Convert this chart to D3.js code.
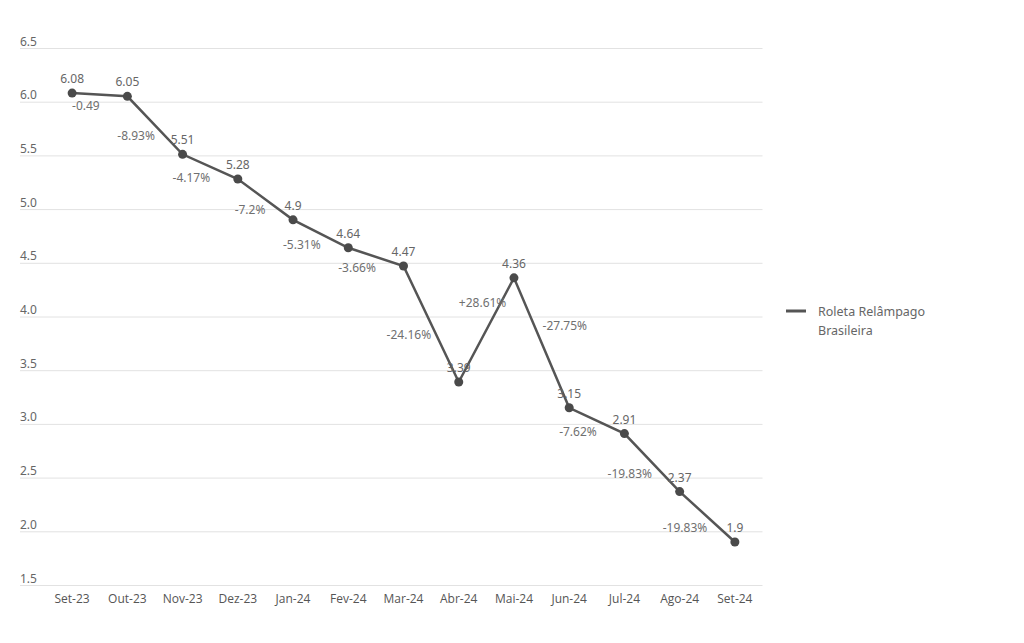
<!DOCTYPE html>
<html>
<head>
<meta charset="utf-8">
<script src="https://cdn.jsdelivr.net/npm/d3@7"></script>
<style>
  html, body { margin: 0; padding: 0; background: #fff; }
  svg { display: block; }
</style>
</head>
<body>
<svg id="chart" width="1024" height="643"></svg>
<script>
// ---- data ----
const categories = ["Set-23","Out-23","Nov-23","Dez-23","Jan-24","Fev-24","Mar-24","Abr-24","Mai-24","Jun-24","Jul-24","Ago-24","Set-24"];
const values = [6.08, 6.05, 5.51, 5.28, 4.9, 4.64, 4.47, 3.39, 4.36, 3.15, 2.91, 2.37, 1.9];
const changeLabels = ["-0.49","-8.93%","-4.17%","-7.2%","-5.31%","-3.66%","-24.16%","+28.61%","-27.75%","-7.62%","-19.83%","-19.83%"];
const yTicks = [1.5, 2.0, 2.5, 3.0, 3.5, 4.0, 4.5, 5.0, 5.5, 6.0, 6.5];
const seriesName = ["Roleta Relâmpago", "Brasileira"];

// ---- layout ----
const svg = d3.select("#chart");
const gridLeft = 20, plotLeft = 44.5, plotRight = 762.5;
const yTop = 48, yBottom = 585;

const x = d3.scaleBand().domain(categories).range([plotLeft, plotRight]).padding(0);
const cx = d => x(d) + x.bandwidth() / 2;
const y = d3.scaleLinear().domain([1.5, 6.5]).range([yBottom, yTop]);

const labelFont = "'Noto Sans', 'Open Sans', sans-serif";
const axisFont = "'Open Sans', 'Noto Sans', sans-serif";

// gridlines + y labels
const yAxis = d3.axisLeft(y).tickValues(yTicks).tickSize(0).tickFormat(d3.format(".1f"));
const gy = svg.append("g").attr("transform", `translate(${gridLeft},0)`).call(yAxis);
gy.select(".domain").remove();
gy.selectAll(".tick line")
  .attr("x1", 0).attr("x2", plotRight - gridLeft)
  .attr("stroke", "#e2e2e2").attr("stroke-width", 1);
gy.selectAll(".tick text")
  .attr("x", 0).attr("dy", -3).attr("text-anchor", "start")
  .attr("fill", "#666").style("font-family", labelFont).style("font-size", "12px");

// x axis labels
const xAxis = d3.axisBottom(x).tickSize(0).tickPadding(0);
const gx = svg.append("g").attr("transform", `translate(0,${yBottom})`).call(xAxis);
gx.select(".domain").remove();
gx.selectAll(".tick text")
  .attr("y", 18).attr("dy", 0)
  .attr("fill", "#555").style("font-family", axisFont).style("font-size", "12px");

// line
const pts = categories.map((c, i) => ({c, v: values[i], i}));
svg.append("path")
  .datum(pts)
  .attr("fill", "none").attr("stroke", "#555").attr("stroke-width", 2.5)
  .attr("d", d3.line().x(d => cx(d.c)).y(d => y(d.v)));

svg.selectAll("circle.pt").data(pts).join("circle")
  .attr("class", "pt")
  .attr("cx", d => cx(d.c)).attr("cy", d => y(d.v)).attr("r", 4.5)
  .attr("fill", "#4a4a4a");

// value labels
svg.selectAll("text.val").data(pts).join("text")
  .attr("class", "val")
  .attr("x", d => cx(d.c)).attr("y", d => y(d.v) - 10)
  .attr("text-anchor", "middle")
  .attr("fill", "#666").style("font-family", labelFont).style("font-size", "12px")
  .text(d => String(d.v));

// change labels, placed by segment direction
const segs = changeLabels.map((t, i) => {
  const x0 = cx(categories[i]), x1 = cx(categories[i + 1]);
  const y0 = y(values[i]), y1 = y(values[i + 1]);
  const mx = (x0 + x1) / 2, my = (y0 + y1) / 2;
  const rising = values[i + 1] > values[i];
  const afterRise = i > 0 && values[i] > values[i - 1];
  let px, py, anchor;
  if (rising) { px = mx + 20; py = my - 23; anchor = "end"; }
  else if (afterRise) { px = mx + 1; py = my - 13; anchor = "start"; }
  else { px = mx; py = my + 15; anchor = "end"; }
  return {t, px, py, anchor};
});
svg.selectAll("text.chg").data(segs).join("text")
  .attr("class", "chg")
  .attr("x", d => d.px).attr("y", d => d.py)
  .attr("text-anchor", d => d.anchor)
  .attr("fill", "#707070").style("font-family", labelFont).style("font-size", "12px")
  .text(d => d.t);

// legend
const lg = svg.append("g").attr("transform", "translate(786,311)");
lg.append("line").attr("x1", 0).attr("x2", 20).attr("y1", 0).attr("y2", 0)
  .attr("stroke", "#555").attr("stroke-width", 3);
lg.selectAll("text").data(seriesName).join("text")
  .attr("x", 32).attr("y", (d, i) => 5 + i * 19)
  .attr("fill", "#666").style("font-family", labelFont).style("font-size", "12.5px")
  .text(d => d);
</script>
</body>
</html>
